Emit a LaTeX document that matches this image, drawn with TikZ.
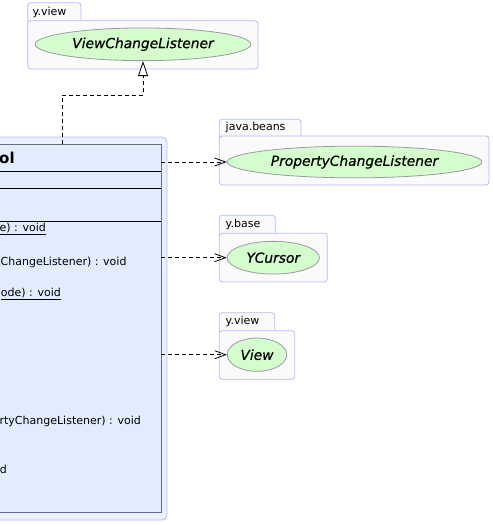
\documentclass[tikz,border=0pt]{standalone}
\usepackage{fontspec}
\setmainfont{DejaVu Sans}
\newfontfamily\ifacefont{DejaVu Sans Oblique}[FakeBold=0.6]
\usetikzlibrary{shapes.geometric,arrows.meta}
\definecolor{pkgfill}{HTML}{FAFAFA}
\definecolor{pkgline}{HTML}{B4BCF8}
\definecolor{ifill}{HTML}{D4FCCC}
\definecolor{iline}{HTML}{9A9AA6}
\definecolor{clsfill}{HTML}{E1EDFF}
\definecolor{clsouter}{HTML}{EAF1FF}
\definecolor{clsline}{HTML}{6A6A8C}
\begin{document}
\begin{tikzpicture}[x=1pt,y=-1pt,
 pkg/.style={draw=pkgline,fill=pkgfill,rounded corners=3pt,line width=0.8pt},
 iface/.style={ellipse,draw=iline,fill=ifill,inner sep=0pt,line width=0.8pt,font=\fontsize{13.8}{15}\ifacefont},
 pkglabel/.style={anchor=west,inner sep=0pt,font=\fontsize{11}{13}\selectfont},
 member/.style={anchor=east,inner sep=0pt,font=\fontsize{11}{13}\selectfont},
 dep/.style={line width=0.8pt,dash pattern=on 4pt off 3pt,-{Straight Barb[length=11pt,width=8pt]}},
 gen/.style={line width=0.8pt,dash pattern=on 4pt off 3pt,-{Triangle[open,length=15pt,width=10pt,fill=white]}}
]
\useasboundingbox (0,0) rectangle (492,524);
\clip (0,0) rectangle (492,524);

% packages
\draw[pkg] (27.7,2.7) rectangle (81,24);
\draw[pkg] (27.7,20.7) rectangle (258,69);
\node[pkglabel] (l1) at (32.5,12) {y.view};

\draw[pkg] (219.3,119.3) rectangle (301,140);
\draw[pkg] (219.3,136) rectangle (489,185);
\node[pkglabel] (l2) at (225.5,127.8) {java.beans};

\draw[pkg] (219.3,215.3) rectangle (275.3,237);
\draw[pkg] (219.3,233.3) rectangle (327.3,282);
\node[pkglabel] (l3) at (225.5,224) {y.base};

\draw[pkg] (219.3,312.7) rectangle (274.7,334);
\draw[pkg] (219.3,330.7) rectangle (294.7,379.3);
\node[pkglabel] (l4) at (225.5,321.5) {y.view};

% interfaces
\node[iface,minimum width=215.7pt,minimum height=32.7pt] (vcl) at (143,44.3) {ViewChangeListener};
\node[iface,minimum width=254.7pt,minimum height=31.7pt] (pcl) at (354.5,162) {PropertyChangeListener};
\node[iface,minimum width=92.3pt,minimum height=32.7pt] (ycur) at (273.3,257.7) {YCursor};
\node[iface,minimum width=59.4pt,minimum height=33.3pt] (view) at (257,354.7) {View};

% class
\draw[draw=pkgline,fill=clsouter,rounded corners=5pt,line width=0.8pt] (-10,137) rectangle (167,520);
\node[draw=clsline,fill=clsfill,minimum width=171pt,minimum height=367.3pt,inner sep=0pt,line width=0.8pt] (cls) at (75.5,328.35) {};
\draw[line width=0.8pt] (cls.west |- 0,171) -- (cls.east |- 0,171);
\draw[line width=0.8pt] (cls.west |- 0,188) -- (cls.east |- 0,188);
\draw[line width=0.8pt] (cls.west |- 0,221) -- (cls.east |- 0,221);
\node[anchor=west,inner sep=0pt,font=\fontsize{15}{17}\selectfont\bfseries] (cname) at (-1,158) {ol};

\node[member] (m1) at (46,229) {\underline{e) : void}};
\node[member,anchor=west] (m2) at (0.5,262) {ChangeListener) : void};
\node[member] (m3) at (61,294) {\underline{ode) : void}};
\node[member] (m4) at (141,421) {rtyChangeListener) : void};
\node[member] (m5) at (7,469) {d};

% connectors
\coordinate (gx) at (62,95);
\draw[gen] (cls.north -| gx) -- (gx) -| (vcl.south);
\draw[dep] (cls.east |- pcl.west) -- (pcl.west);
\draw[dep] (cls.east |- ycur.west) -- (ycur.west);
\draw[dep] (cls.east |- view.west) -- (view.west);
\end{tikzpicture}
\end{document}
